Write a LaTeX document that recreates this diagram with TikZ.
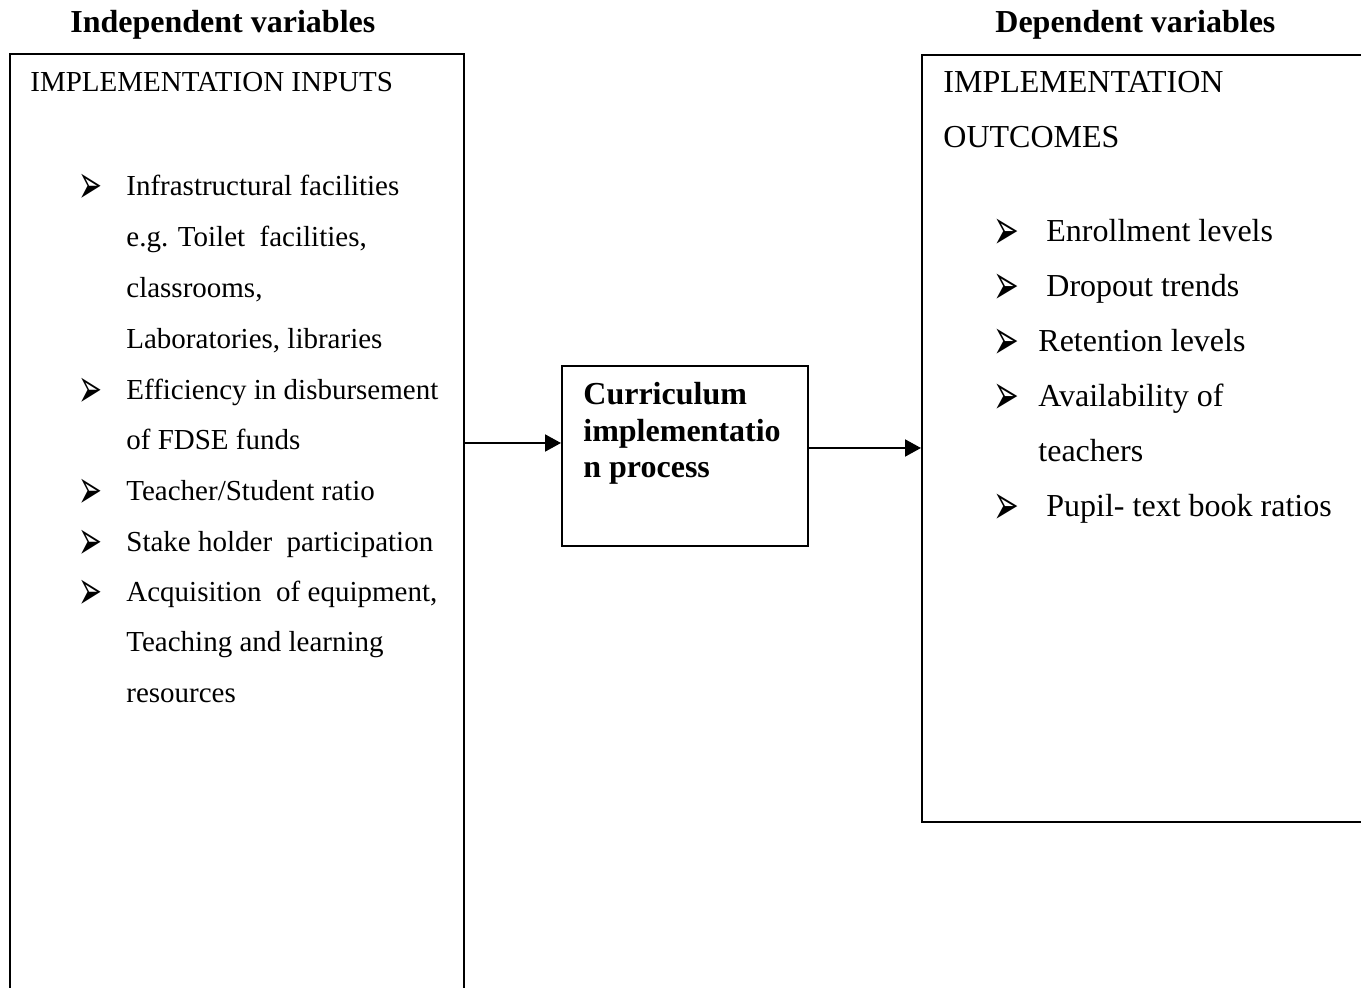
\documentclass[tikz,border=0pt]{standalone}
\usepackage{fontspec}
\setmainfont{Liberation Serif}
\newfontfamily\symfont{DejaVu Sans}
\usetikzlibrary{arrows.meta}
\newcommand{\lbullet}{\raisebox{-3.6pt}[10pt][0pt]{\scalebox{1.3}[2.5]{➢}}}
\newcommand{\rbullet}{\raisebox{-3.8pt}[11pt][0pt]{\scalebox{1.4}[2.6]{➢}}}
\begin{document}
\begin{tikzpicture}[x=0.5pt,y=-0.5pt,
  box/.style={draw, line width=1pt, inner sep=0pt, anchor=north west},
  lt/.style={anchor=base west, inner sep=0pt, font=\fontsize{14.5}{17}\selectfont},
  rt/.style={anchor=base west, inner sep=0pt, font=\fontsize{16}{19}\selectfont},
  ttl/.style={anchor=base west, inner sep=0pt, font=\fontsize{16}{19}\selectfont\bfseries},
  bul/.style={anchor=base west, inner sep=0pt, font=\symfont\fontsize{11}{13}\selectfont},
  arr/.style={line width=1pt, -{Triangle[length=8pt,width=8.5pt]}}]
\useasboundingbox (0,0) rectangle (1361,988);
\clip (0,0) rectangle (1361,988);
% boxes
\node[box, minimum width=227pt, minimum height=480pt] (inbox) at (9,53) {};
\node[box, minimum width=123pt, minimum height=90pt] (mid) at (561,365) {};
\node[box, minimum width=224.5pt, minimum height=383.5pt] (outbox) at (921,54) {};
% titles
\node[ttl] (t1) at (70,33) {Independent variables};
\node[ttl] (t2) at (995,33) {Dependent variables};
% left box
\node[lt] (lh) at (30,92) {IMPLEMENTATION INPUTS};
\node[bul] (lb1) at (78,196) {\lbullet};
\node[lt] (l1) at (126,196) {Infrastructural facilities};
\node[lt] (l2) at (126,247) {e.g. Toilet\ \ facilities,};
\node[lt] (l3) at (126,298) {classrooms,};
\node[lt] (l4) at (126,349) {Laboratories, libraries};
\node[bul] (lb2) at (78,400) {\lbullet};
\node[lt] (l5) at (126,400) {Efficiency in disbursement};
\node[lt] (l6) at (126,450) {of FDSE funds};
\node[bul] (lb3) at (78,501) {\lbullet};
\node[lt] (l7) at (126,501) {Teacher/Student ratio};
\node[bul] (lb4) at (78,552) {\lbullet};
\node[lt] (l8) at (126,552) {Stake holder\ \ participation};
\node[bul] (lb5) at (78,602) {\lbullet};
\node[lt] (l9) at (126,602) {Acquisition\ \ of equipment,};
\node[lt] (l10) at (126,652) {Teaching and learning};
\node[lt] (l11) at (126,703) {resources};
% middle box
\node[ttl] (m1) at (583,405) {Curriculum};
\node[ttl] (m2) at (583,442) {implementatio};
\node[ttl] (m3) at (583,478) {n process};
% right box
\node[rt] (rh1) at (943,93) {IMPLEMENTATION};
\node[rt] (rh2) at (943,148) {OUTCOMES};
\node[bul] (rb1) at (993,242) {\rbullet};
\node[rt] (r1) at (1046,242) {Enrollment levels};
\node[bul] (rb2) at (993,297) {\rbullet};
\node[rt] (r2) at (1046,297) {Dropout trends};
\node[bul] (rb3) at (993,352) {\rbullet};
\node[rt] (r3) at (1038,352) {Retention levels};
\node[bul] (rb4) at (993,407) {\rbullet};
\node[rt] (r4) at (1038,407) {Availability of};
\node[rt] (r5) at (1038,462) {teachers};
\node[bul] (rb5) at (993,517) {\rbullet};
\node[rt] (r6) at (1046,517) {Pupil- text book ratios};
% connectors
\draw[arr] (inbox.east |- 0,443) -- (mid.west |- 0,443);
\draw[arr] (mid.east |- 0,448) -- (outbox.west |- 0,448);
\end{tikzpicture}
\end{document}
